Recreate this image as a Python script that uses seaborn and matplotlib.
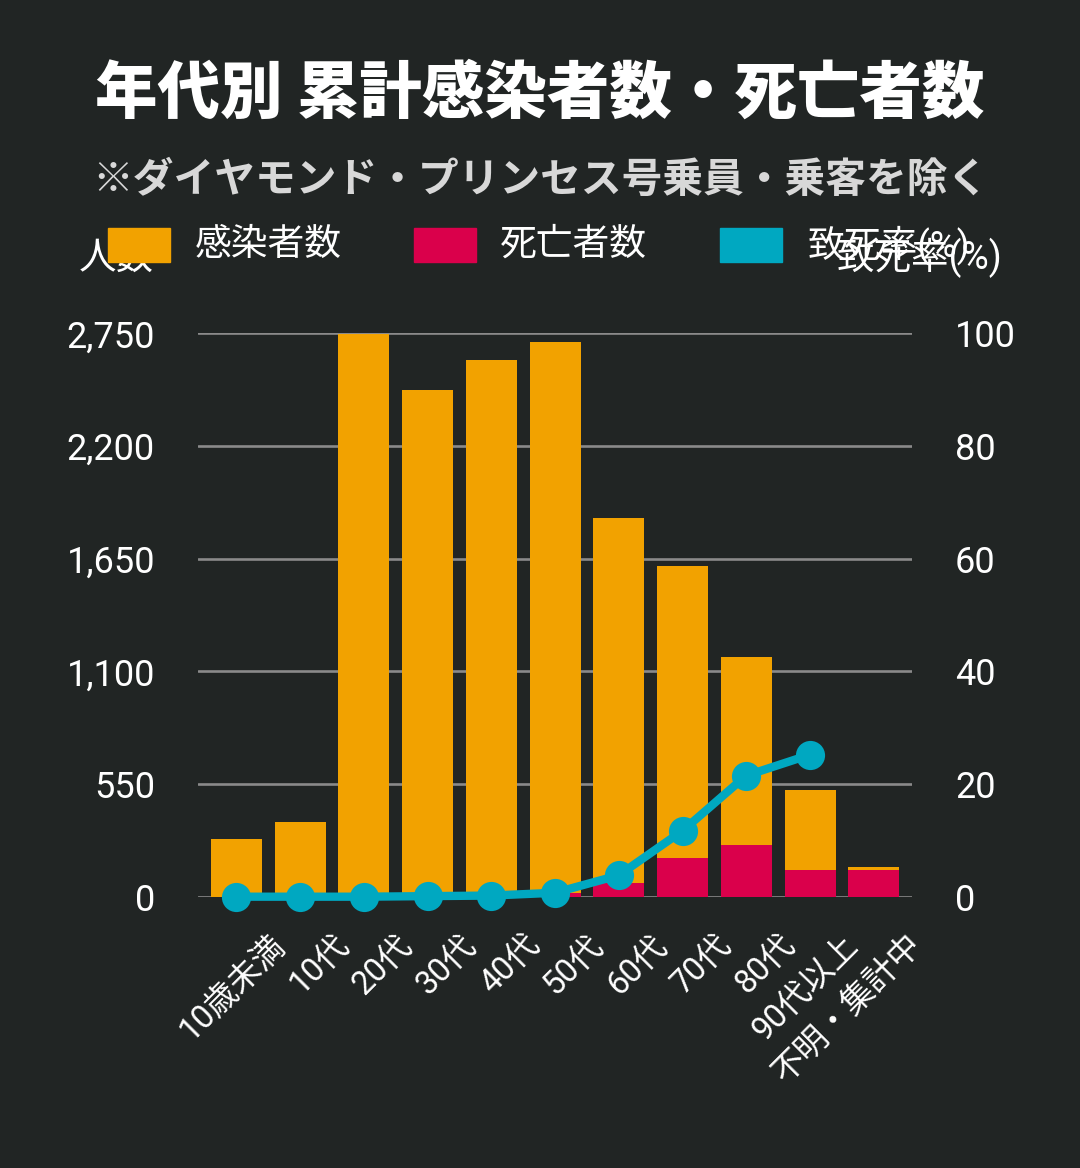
import matplotlib
matplotlib.use('Agg')
import matplotlib.pyplot as plt
import matplotlib.transforms as mtransforms
from matplotlib.patches import Rectangle
from matplotlib.ticker import FuncFormatter
import seaborn as sns
import numpy as np
import pandas as pd

# ---------------- data ----------------
categories = ['10歳未満', '10代', '20代', '30代', '40代', '50代',
              '60代', '70代', '80代', '90代以上', '不明・集計中']
infected = [282, 366, 2745, 2472, 2618, 2706, 1850, 1614, 1171, 521, 146]
deaths = [0, 0, 0, 1, 4, 20, 65, 187, 251, 130, 130]
rate_categories = categories[:10]
fatality_rate = [0, 0, 0, 0.1, 0.2, 0.7, 3.8, 11.7, 21.5, 25.2]
left_ticks = [0, 550, 1100, 1650, 2200, 2750]
right_ticks = [0, 20, 40, 60, 80, 100]
legend_labels = ['感染者数', '死亡者数', '致死率(%)']
title = '年代別 累計感染者数・死亡者数'
subtitle = '※ダイヤモンド・プリンセス号乗員・乗客を除く'

# ---------------- style ----------------
BG = '#212524'
ORANGE = '#F2A200'
RED = '#DA004B'
TEAL = '#00A8C1'
GRID = '#8a8a8a'
W, H = 1080, 1168

sns.set_theme(style='white')
plt.rcParams['font.family'] = ['Roboto', 'Noto Sans CJK JP', 'DejaVu Sans']

fig = plt.figure(figsize=(W / 100, H / 100), dpi=100, facecolor=BG)
ax = fig.add_axes([198 / W, (H - 896.7) / H, (912 - 198) / W, (896.7 - 333.3) / H])
ax.set_facecolor(BG)

df = pd.DataFrame({'cat': categories, 'infected': infected, 'deaths': deaths})
sns.barplot(data=df, x='cat', y='infected', color=ORANGE, saturation=1,
            width=0.8, errorbar=None, ax=ax, zorder=2, linewidth=0)
sns.barplot(data=df, x='cat', y='deaths', color=RED, saturation=1,
            width=0.8, errorbar=None, ax=ax, zorder=3, linewidth=0)

ax.set_xlim(-0.6, 10.6)
ax.set_ylim(0, 2750)
ax.set_yticks(left_ticks)
ax.yaxis.set_major_formatter(FuncFormatter(lambda v, p: f'{int(v):,}'))
ax.yaxis.grid(True, color=GRID, lw=1.9)
ax.xaxis.grid(False)
ax.set_axisbelow(True)
for s in ax.spines.values():
    s.set_visible(False)
ax.set_xlabel('')
ax.set_ylabel('')
ax.tick_params(axis='y', length=0, pad=31, labelsize=26, labelcolor='white')

ax.set_xticks(range(len(categories)))
ax.set_xticklabels(categories, rotation=45, ha='right', va='top',
                   rotation_mode='anchor', fontsize=23.5, color='white')
ax.tick_params(axis='x', length=0, pad=23)
offset = mtransforms.ScaledTranslation(32 / 100, 0, fig.dpi_scale_trans)
for lab in ax.get_xticklabels():
    lab.set_transform(lab.get_transform() + offset)

ax2 = ax.twinx()
sns.lineplot(x=np.arange(len(fatality_rate)), y=fatality_rate, ax=ax2,
             color=TEAL, lw=6, marker='o', markersize=21, markeredgewidth=0,
             clip_on=False, zorder=5)
ax2.set_ylim(0, 100)
ax2.set_xlim(-0.6, 10.6)
ax2.set_yticks(right_ticks)
for s in ax2.spines.values():
    s.set_visible(False)
ax2.set_ylabel('')
ax2.set_xlabel('')
ax2.grid(False)
ax2.tick_params(axis='y', length=0, pad=31, labelsize=26, labelcolor='white')

# ---------------- titles ----------------
fig.text(0.5, 1 - 94 / H, title, ha='center', va='center', fontsize=45,
         fontweight='black', color='white', family=['Noto Sans CJK JP', 'DejaVu Sans'])
fig.text(0.5, 1 - 180 / H, subtitle, ha='center', va='center', fontsize=29.3,
         fontweight='bold', color='#d8d8d8', family=['Noto Sans CJK JP', 'DejaVu Sans'])

# axis titles
fig.text(116 / W, 1 - 258 / H, '人数', ha='center', va='center', fontsize=27,
         color='white', zorder=1)
fig.text(919 / W, 1 - 258 / H, '致死率(%)', ha='center', va='center', fontsize=27,
         color='white', zorder=1)

# ---------------- legend ----------------
legend_colors = [ORANGE, RED, TEAL]
patch_x = [108, 414, 720]
text_x = [195, 500, 808]
for lbl, col, px, tx in zip(legend_labels, legend_colors, patch_x, text_x):
    fig.add_artist(Rectangle((px / W, 1 - 262 / H), 62 / W, 34 / H,
                             transform=fig.transFigure, color=col, zorder=3))
    fig.text(tx / W, 1 - 245 / H, lbl, ha='left', va='center', fontsize=26.5,
             color='white', zorder=2)

fig.savefig('out.png', dpi=100, facecolor=BG)
